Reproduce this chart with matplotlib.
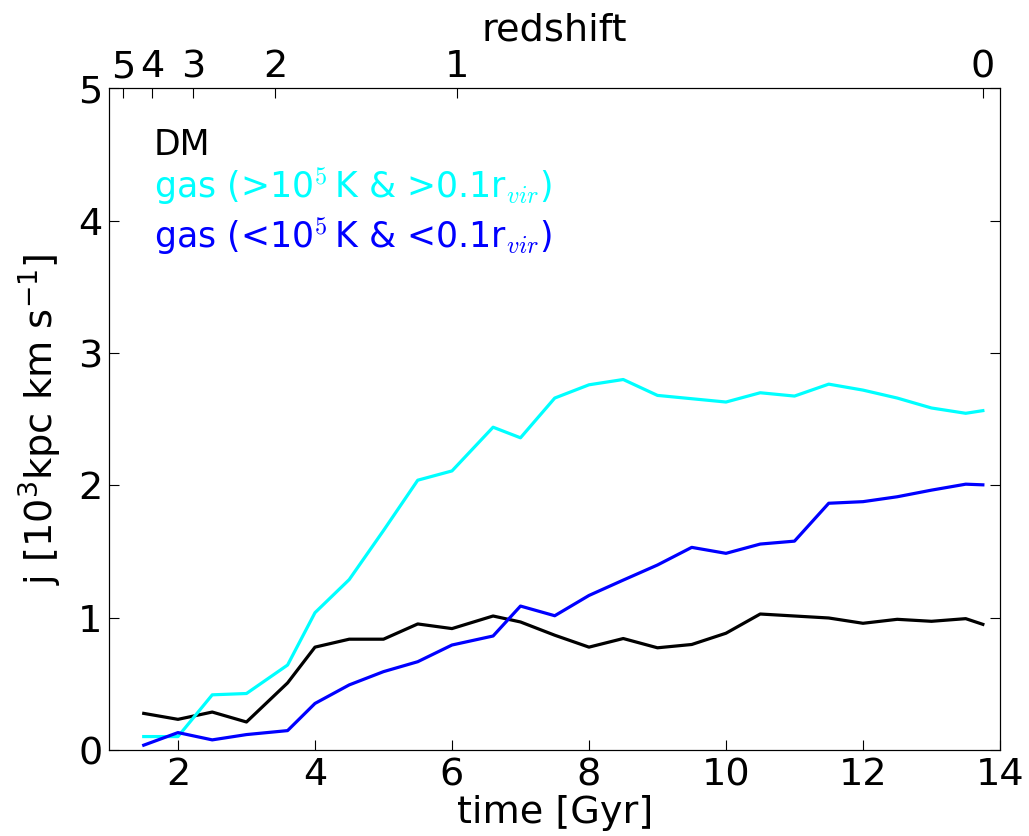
import numpy as np
import matplotlib
matplotlib.use('Agg')
import matplotlib.pyplot as plt

# time [Gyr] of each snapshot
t = [1.5, 2.0, 2.5, 3.0, 3.6, 4.0, 4.5, 5.0, 5.5, 6.0, 6.6, 7.0, 7.5, 8.0,
     8.5, 9.0, 9.5, 10.0, 10.5, 11.0, 11.5, 12.0, 12.5, 13.0, 13.5, 13.75]

j_dm = [0.28, 0.235, 0.29, 0.215, 0.51, 0.78, 0.84, 0.84, 0.955, 0.92, 1.015,
        0.97, 0.87, 0.78, 0.845, 0.775, 0.80, 0.885, 1.03, 1.015, 1.0, 0.96,
        0.99, 0.975, 0.995, 0.952]

j_hot = [0.105, 0.105, 0.42, 0.43, 0.645, 1.04, 1.29, 1.66, 2.04, 2.11, 2.44,
         2.36, 2.66, 2.76, 2.80, 2.68, 2.655, 2.63, 2.70, 2.675, 2.765, 2.72,
         2.66, 2.585, 2.545, 2.565]

j_cold = [0.04, 0.135, 0.08, 0.12, 0.15, 0.355, 0.495, 0.595, 0.67, 0.796,
          0.864, 1.09, 1.017, 1.17, 1.286, 1.40, 1.533, 1.488, 1.558, 1.58,
          1.866, 1.878, 1.915, 1.965, 2.01, 2.005]

# redshift ticks on the top axis, placed at their cosmic time
z_labels = ['5', '4', '3', '2', '1', '0']
z_times = [1.2, 1.62, 2.22, 3.42, 6.07, 13.75]

fs = 27.5
lfs = 25

fig = plt.figure(figsize=(10.29, 8.36), dpi=100)
ax = fig.add_axes([0.1064, 0.1023, 0.8654, 0.7924])

ax.plot(t, j_dm, color='black', lw=2.3)
ax.plot(t, j_hot, color='cyan', lw=2.3)
ax.plot(t, j_cold, color='blue', lw=2.3)

ax.set_xlim(1, 14)
ax.set_ylim(0, 5)
ax.set_xticks([2, 4, 6, 8, 10, 12, 14])
ax.set_yticks([0, 1, 2, 3, 4, 5])
ax.tick_params(direction='in', length=7, labelsize=fs, right=True, top=False, pad=5)
ax.set_xlabel('time [Gyr]', fontsize=fs, labelpad=1)
ax.set_ylabel(r'j [10$^3$kpc km s$^{-1}$]', fontsize=fs, labelpad=10)

ax2 = ax.twiny()
ax2.set_xlim(ax.get_xlim())
ax2.set_xticks(z_times)
ax2.set_xticklabels(z_labels)
ax2.tick_params(direction='in', length=7, labelsize=fs, pad=2)
ax2.set_xlabel('redshift', fontsize=fs, labelpad=6)

ax.text(0.05, 0.899, 'DM', color='black', fontsize=lfs, transform=ax.transAxes)
ax.text(0.05, 0.834, r'gas (>10$^5\,$K & >0.1r$_{vir}$)', color='cyan', fontsize=lfs,
        math_fontfamily='cm', transform=ax.transAxes)
ax.text(0.05, 0.758, r'gas (<10$^5\,$K & <0.1r$_{vir}$)', color='blue', fontsize=lfs,
        math_fontfamily='cm', transform=ax.transAxes)

fig.savefig('out.png', dpi=100)
